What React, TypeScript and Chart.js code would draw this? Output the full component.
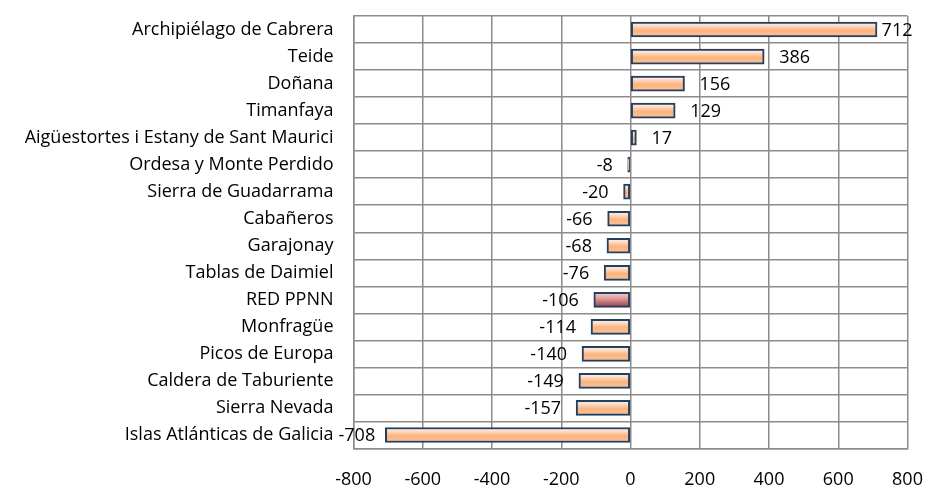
import React, { useEffect, useRef } from "react";
import { Chart, registerables } from "chart.js";

Chart.register(...registerables);

const categories = [
  "Archipiélago de Cabrera",
  "Teide",
  "Doñana",
  "Timanfaya",
  "Aigüestortes i Estany de Sant Maurici",
  "Ordesa y Monte Perdido",
  "Sierra de Guadarrama",
  "Cabañeros",
  "Garajonay",
  "Tablas de Daimiel",
  "RED PPNN",
  "Monfragüe",
  "Picos de Europa",
  "Caldera de Taburiente",
  "Sierra Nevada",
  "Islas Atlánticas de Galicia",
];
const values = [712, 386, 156, 129, 17, -8, -20, -66, -68, -76, -106, -114, -140, -149, -157, -708];
const highlighted = ["RED PPNN"];
const xMin = -800;
const xMax = 800;
const xStep = 200;

const FONT = "'Open Sans', Lato, sans-serif";
const FONT_SIZE = 18;

const gradientPlugin = {
  id: "barGradient",
  beforeDatasetsDraw(chart: any) {
    const ctx = chart.ctx;
    const meta = chart.getDatasetMeta(0);
    meta.data.forEach((el: any, i: number) => {
      const top = el.y - el.height / 2;
      const bot = el.y + el.height / 2;
      const g = ctx.createLinearGradient(0, top, 0, bot);
      if (highlighted.includes(categories[i])) {
        g.addColorStop(0, "#f7d6d6");
        g.addColorStop(0.45, "#dc9494");
        g.addColorStop(1, "#8e3c42");
      } else {
        g.addColorStop(0, "#fdeee8");
        g.addColorStop(0.2, "#fde2d2");
        g.addColorStop(0.55, "#fbb47e");
        g.addColorStop(1, "#f9c49a");
      }
      el.options = Object.assign({}, el.options, { backgroundColor: g });
    });
  },
};

const labelPlugin = {
  id: "valueLabels",
  afterDatasetsDraw(chart: any) {
    const ctx = chart.ctx;
    const area = chart.chartArea;
    const meta = chart.getDatasetMeta(0);
    ctx.save();
    ctx.font = `${FONT_SIZE}px ${FONT}`;
    ctx.fillStyle = "#000";
    ctx.textBaseline = "middle";
    meta.data.forEach((el: any, i: number) => {
      const v = values[i];
      const txt = String(v);
      const w = ctx.measureText(txt).width;
      const gap = 15;
      if (v >= 0) {
        let x = el.x + gap;
        if (x + w > area.right + 5) x = area.right + 5 - w;
        ctx.textAlign = "left";
        ctx.fillText(txt, x, el.y + 1);
      } else {
        let x = el.x - gap;
        if (x - w < area.left - 15) x = area.left - 15 + w;
        ctx.textAlign = "right";
        ctx.fillText(txt, x, el.y + 1);
      }
    });
    ctx.restore();
  },
};

export default function App() {
  const ref = useRef<HTMLCanvasElement | null>(null);
  useEffect(() => {
    if (!ref.current) return;
    const chart = new Chart(ref.current, {
      type: "bar",
      data: {
        labels: categories,
        datasets: [
          {
            data: values,
            backgroundColor: () => "#fbb47e",
            borderColor: "#243f60",
            borderWidth: 2,
            borderSkipped: false,
            barThickness: 15,
          },
        ],
      },
      options: {
        indexAxis: "y",
        animation: false,
        responsive: false,
        maintainAspectRatio: false,
        layout: { padding: { top: 16, right: 18.5, bottom: 0, left: 0 } },
        plugins: {
          legend: { display: false },
          tooltip: { enabled: false },
        },
        scales: {
          x: {
            min: xMin,
            max: xMax,
            ticks: {
              stepSize: xStep,
              color: "#000",
              font: { family: FONT, size: FONT_SIZE },
              padding: 21,
              maxRotation: 0,
            },
            grid: { color: "#8c8c8c", lineWidth: 1.5, drawTicks: false },
            border: { color: "#8c8c8c", width: 1.5 },
            afterFit(scale: any) {
              scale.height = 37.5;
              scale.paddingLeft = 0;
              scale.paddingRight = 0;
            },
          },
          y: {
            ticks: {
              color: "#000",
              font: { family: FONT, size: FONT_SIZE },
              padding: 20,
              autoSkip: false,
            },
            grid: { color: "#8c8c8c", lineWidth: 1.5, drawTicks: false, offset: true },
            border: { color: "#8c8c8c", width: 1.5 },
            afterFit(scale: any) {
              scale.width = 353.5;
              scale.paddingTop = 0;
              scale.paddingBottom = 0;
            },
          },
        },
      },
      plugins: [gradientPlugin, labelPlugin],
    } as any);
    return () => chart.destroy();
  }, []);
  return (
    <div style={{ position: "fixed", left: 0, top: 0, width: 926, height: 486, background: "#fff" }}>
      <canvas ref={ref} width={926} height={486} style={{ display: "block" }} />
    </div>
  );
}
